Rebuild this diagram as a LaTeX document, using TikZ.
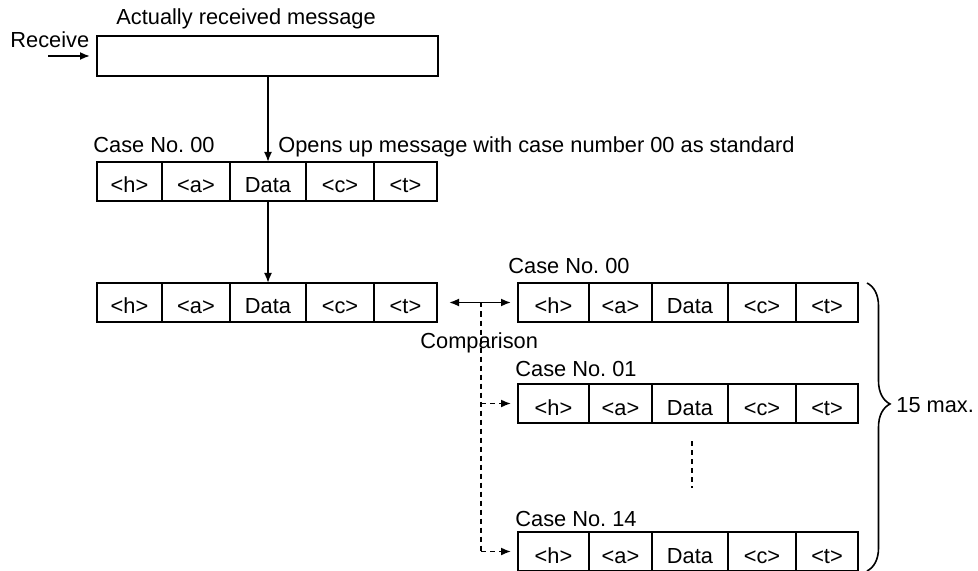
\documentclass[tikz,border=0pt]{standalone}
\usepackage{fontspec}
\setmainfont{Liberation Sans}
\usepackage{tikz}
\usetikzlibrary{arrows.meta,positioning,calc,decorations.pathreplacing}
\frenchspacing

% one message split into its five fields
\newcommand{\msgrow}[2]{%
  \node[cell,wh,anchor=north west] (#1h) at (#2) {<h>};
  \node[cell,wa,right=0pt of #1h] (#1a) {<a>};
  \node[cell,wd,right=0pt of #1a] (#1d) {Data};
  \node[cell,wc,right=0pt of #1d] (#1c) {<c>};
  \node[cell,wt,right=0pt of #1c] (#1t) {<t>};}

\begin{document}
\begin{tikzpicture}[x=0.5pt,y=-0.5pt,font=\fontsize{10.9}{13}\selectfont,
  cell/.style={rectangle,draw,line width=1pt,outer sep=0pt,inner sep=0pt,minimum height=19.5pt,
               text height=15.5pt,text depth=4pt},
  wh/.style={minimum width=32.5pt},wa/.style={minimum width=34pt},wd/.style={minimum width=38pt},
  wc/.style={minimum width=34pt},wt/.style={minimum width=31.5pt},
  lbl/.style={anchor=base west,inner sep=0pt},
  arr/.style={-{Latex[length=5pt,width=4pt]},line width=0.9pt},
  dbl/.style={{Latex[length=5pt,width=4pt]}-{Latex[length=5pt,width=4pt]},line width=0.9pt},
  dsh/.style={dash pattern=on 2.5pt off 2pt,line width=0.8pt}]
\useasboundingbox (0,0) rectangle (978,571);

% received frame
\node[rectangle,draw,line width=1pt,outer sep=0pt,minimum width=170.5pt,minimum height=20pt,
      anchor=north west] (recv) at (97,36) {};
\node[lbl] (lrecv) at (116,25) {Actually received message};
\node[lbl] (lin) at (10,48) {Receive};
\coordinate (rin) at (48,56);
\draw[arr,shorten >=3.5pt] (rin) -- (recv.west);

% opened with case 00, then copied for comparison
\msgrow{A}{97,162}
\msgrow{B}{97,283}
\node[lbl] (lA) at (93,153) {Case No. 00};
\node[lbl] (lopen) at (278,153) {Opens up message with case number 00 as standard};
\draw[arr] (recv.south -| Ad.north) -- (Ad.north);
\draw[arr] (Ad.south) -- (Bd.north);

% registered cases
\begin{scope}[wh/.style={minimum width=35.5pt},wa/.style={minimum width=31.5pt},
  wd/.style={minimum width=38pt},wc/.style={minimum width=34pt},wt/.style={minimum width=31pt}]
\msgrow{C}{518,283}
\msgrow{D}{518,384}
\msgrow{E}{518,532}
\end{scope}
\node[lbl] (lC) at (508,274) {Case No. 00};
\node[lbl] (lD) at (515,376) {Case No. 01};
\node[lbl] (lE) at (515,526) {Case No. 14};
\node[lbl] (lcmp) at (420,348) {Comparison};

\coordinate (cmp) at (481,302.5);
\draw[dbl,shorten <=6pt,shorten >=3.5pt] (Bt.east) -- (Ch.west);
\draw[dsh] (cmp) -- (cmp |- Eh.west);
\draw[arr,dsh,shorten >=3.5pt] (cmp |- Dh.west) -- (Dh.west);
\draw[arr,dsh,shorten >=3.5pt] (cmp |- Eh.west) -- (Eh.west);
\draw[dsh] (692,441) -- (692,488);

% at most 15 cases
\draw[line width=0.8pt,decorate,decoration={brace,amplitude=11.5pt,aspect=0.42}]
  ($(Ct.north east)+(9,0)$) -- ($(Et.south east)+(9,0)$);
\node[anchor=west,inner sep=0pt] (lmax) at (896,405) {15 max.};
\end{tikzpicture}
\end{document}
